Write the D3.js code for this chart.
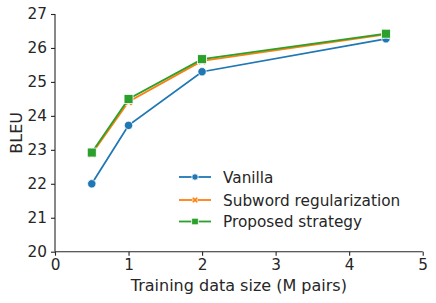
<!DOCTYPE html>
<html><head><meta charset="utf-8">
<script src="https://cdn.jsdelivr.net/npm/d3@7"></script>
<style>body{margin:0;background:#fff}svg{display:block}text{font-family:"DejaVu Sans",sans-serif;fill:#262626}</style>
</head><body><svg id="c" width="436" height="303"></svg>
<script>
const xValues = [0.5, 1, 2, 4.5];
const seriesNames = ["Vanilla", "Subword regularization", "Proposed strategy"];
const vanilla = [22.0, 23.72, 25.3, 26.27];
const subword = [22.88, 24.42, 25.62, 26.4];
const proposed = [22.92, 24.5, 25.67, 26.42];
const xTicks = [0, 1, 2, 3, 4, 5];
const yTicks = [20, 21, 22, 23, 24, 25, 26, 27];
const colors = ["#1f77b4", "#ff7f0e", "#2ca02c"];
const markers = ["circle", "x", "square"];

const svg = d3.select("#c");
const x = d3.scaleLinear().domain([0, 5]).range([55, 422.7]);
const y = d3.scaleLinear().domain([20, 27]).range([251.7, 14]);

const xa = svg.append("g").attr("transform", "translate(0,251.7)").call(d3.axisBottom(x).tickValues(xTicks).tickFormat(d3.format("d")).tickSize(4).tickPadding(3));
const ya = svg.append("g").attr("transform", "translate(55,0)").call(d3.axisLeft(y).tickValues(yTicks).tickFormat(d3.format("d")).tickSize(4).tickPadding(4));
[xa, ya].forEach(a => {
  a.selectAll("path").attr("stroke", "#262626").attr("stroke-width", 1.1);
  a.selectAll("line").attr("stroke", "#262626").attr("stroke-width", 1.1);
  a.selectAll("text").style("font-size", "15.3px").attr("fill", "#262626");
});
xa.selectAll("path").attr("d", `M${x(0)},0H${x(5)}`);
ya.selectAll("path").attr("d", `M0,${y(20)}V${y(27)}`);

svg.append("text").attr("x", x(2.5)).attr("y", 291).attr("text-anchor", "middle").style("font-size", "16px").text("Training data size (M pairs)");
svg.append("text").attr("transform", `translate(22,${y(23.5)}) rotate(-90)`).attr("text-anchor", "middle").style("font-size", "16px").text("BLEU");

const data = [vanilla, subword, proposed];
const line = d3.line().x((d, i) => x(xValues[i])).y(d => y(d));

function drawMarker(g, type, cx, cy, color, s) {
  if (type === "circle") {
    g.append("circle").attr("cx", cx).attr("cy", cy).attr("r", s).attr("fill", color).attr("stroke", "#fff").attr("stroke-width", 0.8);
  } else if (type === "square") {
    g.append("rect").attr("x", cx - s).attr("y", cy - s).attr("width", 2 * s).attr("height", 2 * s).attr("fill", color).attr("stroke", "#fff").attr("stroke-width", 0.8);
  } else {
    const a = s, b = s * 0.4;
    const pts = [[-a + b, -a], [0, -b * 1.4], [a - b, -a], [a, -a + b], [b * 1.4, 0], [a, a - b], [a - b, a], [0, b * 1.4], [-a + b, a], [-a, a - b], [-b * 1.4, 0], [-a, -a + b]];
    g.append("polygon").attr("points", pts.map(q => (cx + q[0]) + "," + (cy + q[1])).join(" ")).attr("fill", color).attr("stroke", "#fff").attr("stroke-width", 0.8);
  }
}

data.forEach((vals, k) => {
  const g = svg.append("g");
  g.append("path").datum(vals).attr("d", line).attr("fill", "none").attr("stroke", colors[k]).attr("stroke-width", 1.8);
  vals.forEach((v, i) => drawMarker(g, markers[k], x(xValues[i]), y(v), colors[k], markers[k] === "square" ? 4.5 : 4.2));
});

const legY = [177, 200, 221.5];
seriesNames.forEach((n, k) => {
  const g = svg.append("g");
  g.append("line").attr("x1", 179).attr("x2", 211).attr("y1", legY[k]).attr("y2", legY[k]).attr("stroke", colors[k]).attr("stroke-width", 1.8);
  drawMarker(g, markers[k], 195, legY[k], colors[k], markers[k] === "square" ? 3.3 : 3.2);
  g.append("text").attr("x", 223).attr("y", legY[k] + 5.5).style("font-size", "15.3px").text(n);
});
</script></body></html>
